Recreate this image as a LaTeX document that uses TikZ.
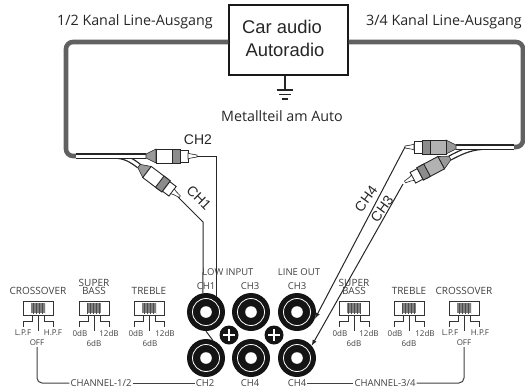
\documentclass[tikz,border=0pt]{standalone}
\usepackage{fontspec}
\setmainfont{Open Sans}
\newfontfamily\arialfont{Liberation Sans}
\usetikzlibrary{calc}
\usetikzlibrary{arrows}
\usetikzlibrary{patterns}
\tikzset{
  radiobox/.style={draw=black!90, line width=1.4pt, fill=white, minimum width=119pt, minimum height=70pt},
  graycable/.style={draw=black!62, line width=4.6pt, rounded corners=7pt},
  whitecable/.style={draw=black!85, line width=5.6pt},
  whitecore/.style={draw=white, line width=3pt},
  wire/.style={draw=black!85, line width=1pt},
  jack/.style={circle, fill=black!92, inner sep=0pt, minimum size=38pt},
  plusdot/.style={circle, fill=black!92, inner sep=0pt, minimum size=19pt},
  swbox/.style={draw=black!80, line width=.9pt, fill=white, minimum width=30pt, minimum height=14pt, inner sep=0pt},
  swknob/.style={preaction={fill=black!50}, pattern=vertical lines, pattern color=black!70, minimum width=14pt, minimum height=10pt, inner sep=0pt},
  swline/.style={draw=black!80, line width=.9pt},
  title/.style={font=\fontsize{14.3}{15}\selectfont, text=black!85, inner sep=1pt},
  bigtitle/.style={font=\arialfont\fontsize{18.4}{20}\selectfont, text=black!85, inner sep=0pt},
  chlabel/.style={font=\arialfont\fontsize{14}{15}\selectfont, text=black!85, inner sep=1pt},
  swlabel/.style={font=\fontsize{10}{10}\selectfont, text=black!75, inner sep=1pt},
  jacklabel/.style={font=\fontsize{9.5}{10}\selectfont, text=black!75, inner sep=1pt},
  chanlabel/.style={font=\fontsize{9.5}{10}\selectfont, text=black!75, inner sep=1pt},
  poslabel/.style={font=\fontsize{8}{8}\selectfont, text=black!75, inner sep=1pt},
  pics/rcaplug/.style={code={
    \draw[black!85, line width=.6pt, fill=black!40] (0,-2) -- (10,-7) -- (10,7) -- (0,2) -- cycle;
    \draw[black!85, line width=.9pt, fill=#1] (10,-7) rectangle (31,7);
    \draw[black!85, line width=.9pt, fill=black!45] (26,-7) rectangle (34,7);
    \draw[black!85, line width=.9pt, fill=white] (34,-6) rectangle (42,6);
    \draw[black!85, line width=.6pt, fill=white] (42,-3) -- (45,-2) -- (51,-1) -- (51,1) -- (45,2) -- (42,3) -- cycle;
  }}
}

\begin{document}
\begin{tikzpicture}[x=1pt,y=-1pt]
  \useasboundingbox (0,0) rectangle (525,389);

  \coordinate (endl) at (76,156);
  \coordinate (endr) at (514,147);
  \coordinate (splitl) at (114,156);
  \coordinate (splitr) at (488,147);

  \node[radiobox] (radio) at (288.5,40) {};
  \draw[graycable] ($(radio.west)+(0,2)$) -- (66,42) -- (66,156) -- (endl);
  \draw[graycable] ($(radio.east)+(0,2)$) -- (523,42) -- (523,147) -- (endr);

  \node[bigtitle] (caraudio) at (282,27) {Car audio};
  \node[bigtitle] (autoradio) at (285,50) {Autoradio};
  \node[title] (out12) at (135,22) {1/2 Kanal Line-Ausgang};
  \node[title] (out34) at (444,22) {3/4 Kanal Line-Ausgang};
  \node[title] (metall) at (282,116) {Metallteil am Auto};

  % ground
  \coordinate (gnd) at (285,90);
  \draw[line width=1.1pt, black!85] (radio.south -| gnd) -- (gnd);
  \draw[line width=1.1pt, black!85] (277,90) -- (293,90);
  \draw[line width=1.1pt, black!85] (279,94.5) -- (291,94.5);
  \draw[line width=1.1pt, black!85] (282,99) -- (288,99);

  % cables and plugs
  \coordinate (apex2) at (146,156);
  \coordinate (apex1) at (139,166);
  \coordinate (apex4) at (456,147);
  \coordinate (apex3) at (450,158);
  \foreach \s/\t/\a/\b in {
    splitl/apex1/0/-37,
    splitr/apex3/180/208%
  } {
    \draw[whitecable] (\s) to[out=\a, in=\b+180] (\t);
    \draw[whitecore] (\s) to[out=\a, in=\b+180] (\t);
  }
  \draw[whitecable] (endl) -- (apex2);
  \draw[whitecore] (endl) -- (apex2);
  \draw[whitecable] (endr) -- (apex4);
  \draw[whitecore] (endr) -- (apex4);

  \pic at (apex2) {rcaplug=white};
  \pic[rotate=-37] at (apex1) {rcaplug=white};
  \pic[rotate=180] at (apex4) {rcaplug=black!30};
  \pic[rotate=208] at (apex3) {rcaplug=black!30};

  % jacks
  \foreach \x/\y/\lab in {
    206/312/a,
    206/358/b,
    251/312/c,
    251/358/d,
    297/312/e,
    297/358/f%
  } {
    \node[jack] (\lab) at (\x, \y) {};
    \draw[white, line width=.8pt] (\lab) circle (13.5);
    \fill[white] (\lab) circle (5.8);
  }
  \foreach \x/\lab in {229/plusa, 274/plusb} {
    \node[plusdot] (\lab) at (\x, 335) {};
    \draw[white, line width=2.2pt] (\x-6,335) -- (\x+6,335) (\x,329) -- (\x,341);
  }

  % wires
  \coordinate (tip2) at (197,156);
  \coordinate (tip1) at (178,197);
  \coordinate (bend1) at (203,222);
  \coordinate (tip4) at (405,147);
  \coordinate (tip3) at (403,184);
  \draw[wire] (tip2) -| (a.58);
  \draw[wire] (tip1) -- (bend1) -- (a.99);
  \draw[wire] (a.-90) -- (b.70);
  \draw[wire, -latex] (tip4) -- (e.-20);
  \draw[wire, -latex] (tip3) -- (f.40);

  \node[chlabel] (wirech2) at (198,140) {CH2};
  \node[chlabel, rotate=-45] (wirech1) at (199,198) {CH1};
  \node[chlabel, rotate=54] (wirech4) at (366,199) {CH4};
  \node[chlabel, rotate=54] (wirech3) at (382,209) {CH3};

  \node[jacklabel] (lowinput) at (228,272) {LOW INPUT};
  \node[jacklabel] (lineout) at (299,272) {LINE OUT};
  \foreach \x/\y/\t/\lab in {
    206/286/CH1/lcha,
    250/286/CH3/lchc,
    297/286/CH3/lche,
    205/383/CH2/lchb,
    250/383/CH4/lchd,
    297/383/CH4/lchf%
  } {
    \node[jacklabel] (\lab) at (\x, \y) {\t};
  }

  % switches
  \foreach \x/\lab in {38/swa, 94/swb, 149/swc, 354/swd, 409/swe, 464/swf} {
    \node[swbox] (\lab) at (\x, 308) {};
    \node[swknob] (\lab knob) at (\x, 308) {};
    \draw[swline] (\lab.south) -- ++(0,16);
    \draw[swline] ($(\lab.south)+(-6,0)$) -- ++(0,6) -- ++(-9,0) -- ++(0,6);
    \draw[swline] ($(\lab.south)+(6,0)$) -- ++(0,6) -- ++(9,0) -- ++(0,6);
  }
  \node[swlabel] (crossa) at (38,291) {CROSSOVER};
  \node[swlabel] (supera) at (94,283) {SUPER};
  \node[swlabel] (bassa) at (94,291) {BASS};
  \node[swlabel] (treblea) at (149,291) {TREBLE};
  \node[swlabel] (superb) at (354,283) {SUPER};
  \node[swlabel] (bassb) at (354,291) {BASS};
  \node[swlabel] (trebleb) at (409,291) {TREBLE};
  \node[swlabel] (crossb) at (464,291) {CROSSOVER};

  \foreach \x/\y/\t/\lab in {
    23/333/L.P.F/lpfa,
    53/333/H.P.F/hpfa,
    37/343/OFF/offa,
    80/333/0dB/zeroa,
    109/333/12dB/twelvea,
    94/343/6dB/sixa,
    136/333/0dB/zerob,
    165/333/12dB/twelveb,
    150/343/6dB/sixb,
    340/333/0dB/zeroc,
    369/333/12dB/twelvec,
    354/343/6dB/sixc,
    395/333/0dB/zerod,
    425/333/12dB/twelved,
    409/343/6dB/sixd,
    450/333/L.P.F/lpfb,
    480/333/H.P.F/hpfb,
    464/343/OFF/offb%
  } {
    \node[poslabel] (\lab) at (\x, \y) {\t};
  }

  \node[chanlabel] (chan12) at (101,383) {CHANNEL-1/2};
  \node[chanlabel] (chan34) at (385,383) {CHANNEL-3/4};
  \draw[black!75, line width=1pt, rounded corners=5pt] (offa.south) |- (chan12.west);
  \draw[black!75, line width=1pt] (chan12.east) -- (lchb.west);
  \draw[black!75, line width=1pt] (lchf.east) -- (chan34.west);
  \draw[black!75, line width=1pt, rounded corners=5pt] (chan34.east) -| (offb.south);
\end{tikzpicture}
\end{document}
